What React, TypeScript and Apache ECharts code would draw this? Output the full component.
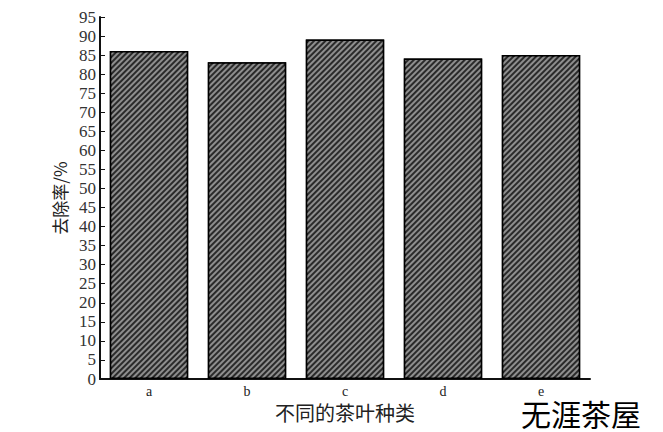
import React, { useEffect, useRef } from 'react';
import * as echarts from 'echarts';

// tea types and removal rates (%)
const categories = ['a', 'b', 'c', 'd', 'e'];
const removalRates = [86.1, 83.1, 89.1, 84.1, 85.0];
const yTicks = [0, 95, 5]; // min, max, interval

const serif = '"Liberation Serif", "DejaVu Serif", serif';
const cjk = '"Noto Sans CJK SC", sans-serif';

const App: React.FC = () => {
  const chartRef = useRef<HTMLDivElement | null>(null);

  useEffect(() => {
    document.body.style.margin = '0';
    if (!chartRef.current) return;
    const chart = echarts.init(chartRef.current, undefined, { renderer: 'svg' });

    chart.setOption({
      animation: false,
      backgroundColor: '#fff',
      grid: { left: 100, right: 73, top: 17, bottom: 53 },
      xAxis: {
        type: 'category',
        data: categories,
        name: '不同的茶叶种类',
        nameLocation: 'middle',
        nameGap: 22,
        nameTextStyle: { fontFamily: cjk, fontSize: 20, color: '#222' },
        axisLine: { lineStyle: { color: '#111', width: 2 } },
        axisTick: { inside: true, length: 3, lineStyle: { color: '#111' } },
        axisLabel: { fontFamily: serif, fontSize: 14, color: '#222', margin: 5 },
      },
      yAxis: {
        type: 'value',
        min: yTicks[0],
        max: yTicks[1],
        interval: yTicks[2],
        name: '去除率/%',
        nameLocation: 'middle',
        nameGap: 28,
        nameTextStyle: { fontFamily: cjk, fontSize: 17, color: '#222' },
        splitLine: { show: false },
        axisLine: { show: true, lineStyle: { color: '#111', width: 2 } },
        axisTick: { show: true, inside: true, length: 5, lineStyle: { color: '#111' } },
        axisLabel: { fontFamily: serif, fontSize: 17, color: '#333', margin: 4 },
      },
      series: [
        {
          type: 'bar',
          data: removalRates,
          barCategoryGap: '20%',
          itemStyle: {
            color: '#2a2a2a',
            borderColor: '#000',
            borderWidth: 1.5,
            decal: {
              symbol: 'rect',
              symbolSize: 1,
              color: '#8e8e8e',
              dashArrayX: [1, 0],
              dashArrayY: [1.5, 2],
              rotation: -Math.PI / 4,
            },
          },
        },
      ],
      graphic: [
        {
          type: 'text',
          left: 521,
          top: 398,
          style: { text: '无涯茶屋', fontFamily: cjk, fontSize: 30, lineHeight: 30, fill: '#000' },
        },
      ],
    });

    return () => {
      chart.dispose();
    };
  }, []);

  return <div ref={chartRef} style={{ width: '663px', height: '432px' }}></div>;
};

export default App;
